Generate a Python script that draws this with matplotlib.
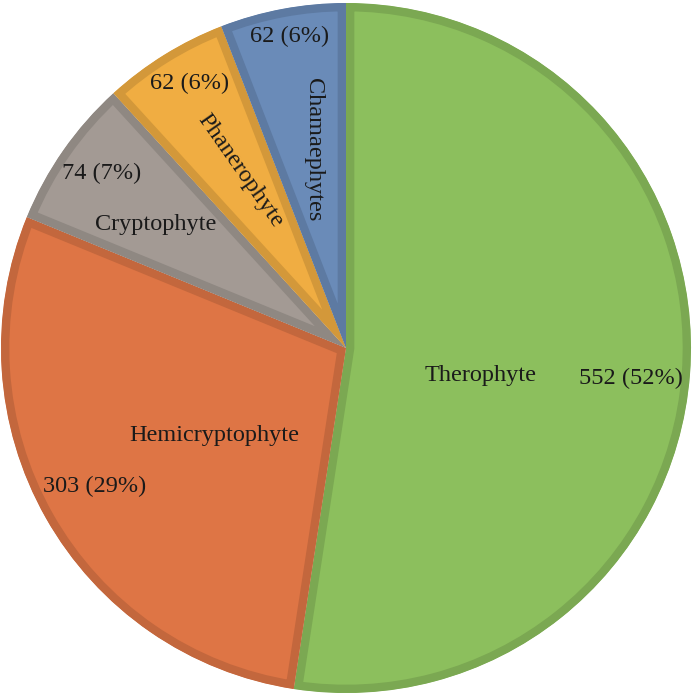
import matplotlib.pyplot as plt
import matplotlib.colors as mcolors

names = ["Therophyte", "Hemicryptophyte", "Cryptophyte", "Phanerophyte", "Chamaephytes"]
counts = [552, 303, 74, 62, 62]
face_colors = ["#8CBF5D", "#DE7545", "#A39A94", "#F0AD42", "#6A8BB8"]

# label layout in pie units (radius = 1)
name_pos = [(0.391, -0.081), (-0.383, -0.255), (-0.551, 0.357), (-0.307, 0.513), (-0.095, 0.574)]
name_rot = [0, 0, 0, -55, -90]
value_pos = [(0.826, -0.087), (-0.730, -0.400), (-0.707, 0.505), (-0.452, 0.768), (-0.165, 0.904)]

plt.rcParams['font.family'] = ['Liberation Serif', 'DejaVu Serif']

fig = plt.figure(figsize=(6.93, 6.99), dpi=100)
ax = fig.add_axes([0, 0, 1, 1])

def darker(c, f=0.88):
    r, g, b = mcolors.to_rgb(c)
    return (r * f, g * f, b * f)

wedges, _ = ax.pie(counts, colors=face_colors, startangle=90, counterclock=False,
                   radius=1.0, center=(0, 0))
for w, c in zip(wedges, face_colors):
    w.set_edgecolor(darker(c))
    w.set_linewidth(12)
    # clip the stroke to the wedge so the border sits inside it
    w.set_clip_path(w)
    w.set_clip_on(True)

total = sum(counts)
for i in range(len(names)):
    ax.text(name_pos[i][0], name_pos[i][1], names[i], ha='center', va='center',
            rotation=name_rot[i], fontsize=17.5, color='#1a1a1a')
    pct = round(counts[i] / total * 100)
    ax.text(value_pos[i][0], value_pos[i][1], f"{counts[i]} ({pct}%)", ha='center',
            va='center', fontsize=17.5, color='#1a1a1a')

ax.set_xlim(-346 / 345, (693 - 346) / 345)
ax.set_ylim((348 - 699) / 345, 348 / 345)
ax.set_aspect('auto')
ax.axis('off')

fig.savefig("out.png", dpi=100)
